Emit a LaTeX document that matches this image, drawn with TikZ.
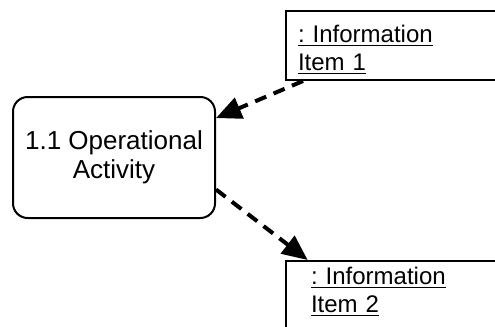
\documentclass[tikz,border=0pt]{standalone}
\usepackage{fontspec}
\setmainfont{Liberation Sans}
\usetikzlibrary{arrows.meta}
\frenchspacing

\begin{document}
\begin{tikzpicture}[x=0.75pt, y=-0.75pt,
    activity/.style={draw, line width=1.5pt, rounded corners=11pt, align=center,
        minimum width=151.5pt, minimum height=90.75pt,
        font=\fontsize{19.5pt}{21.75pt}\selectfont},
    infobox/.style={draw, line width=1.5pt, anchor=north west, align=left,
        font=\fontsize{18pt}{21pt}\selectfont},
    flow/.style={line width=3pt, dash pattern=on 9pt off 6pt,
        -{Triangle[length=19pt, width=16.5pt]}}]
                \useasboundingbox (0, 0) rectangle (495, 326);

                \node[activity] (A) at (114, 157.5) {1.1 Operational\\Activity};

                \node[infobox, inner xsep=9pt, inner ysep=10.9pt, text width=154.5pt,
                    text depth=16.9pt] (I1) at (285, 10)
                    {\underline{: Information}\\\underline{Item 1}};
                \node[infobox, inner xsep=18.75pt, inner ysep=4.9pt, text width=135pt,
                    text depth=37pt] (I2) at (285, 260)
                    {\underline{: Information}\\\underline{Item 2}};

                \draw[flow] ([xshift=13.5pt]I1.south west) -- ([yshift=29.6pt]A.east);
                \draw[flow] ([yshift=-24pt]A.east) -- ([xshift=17pt]I2.north west);
            \end{tikzpicture}
\end{document}
